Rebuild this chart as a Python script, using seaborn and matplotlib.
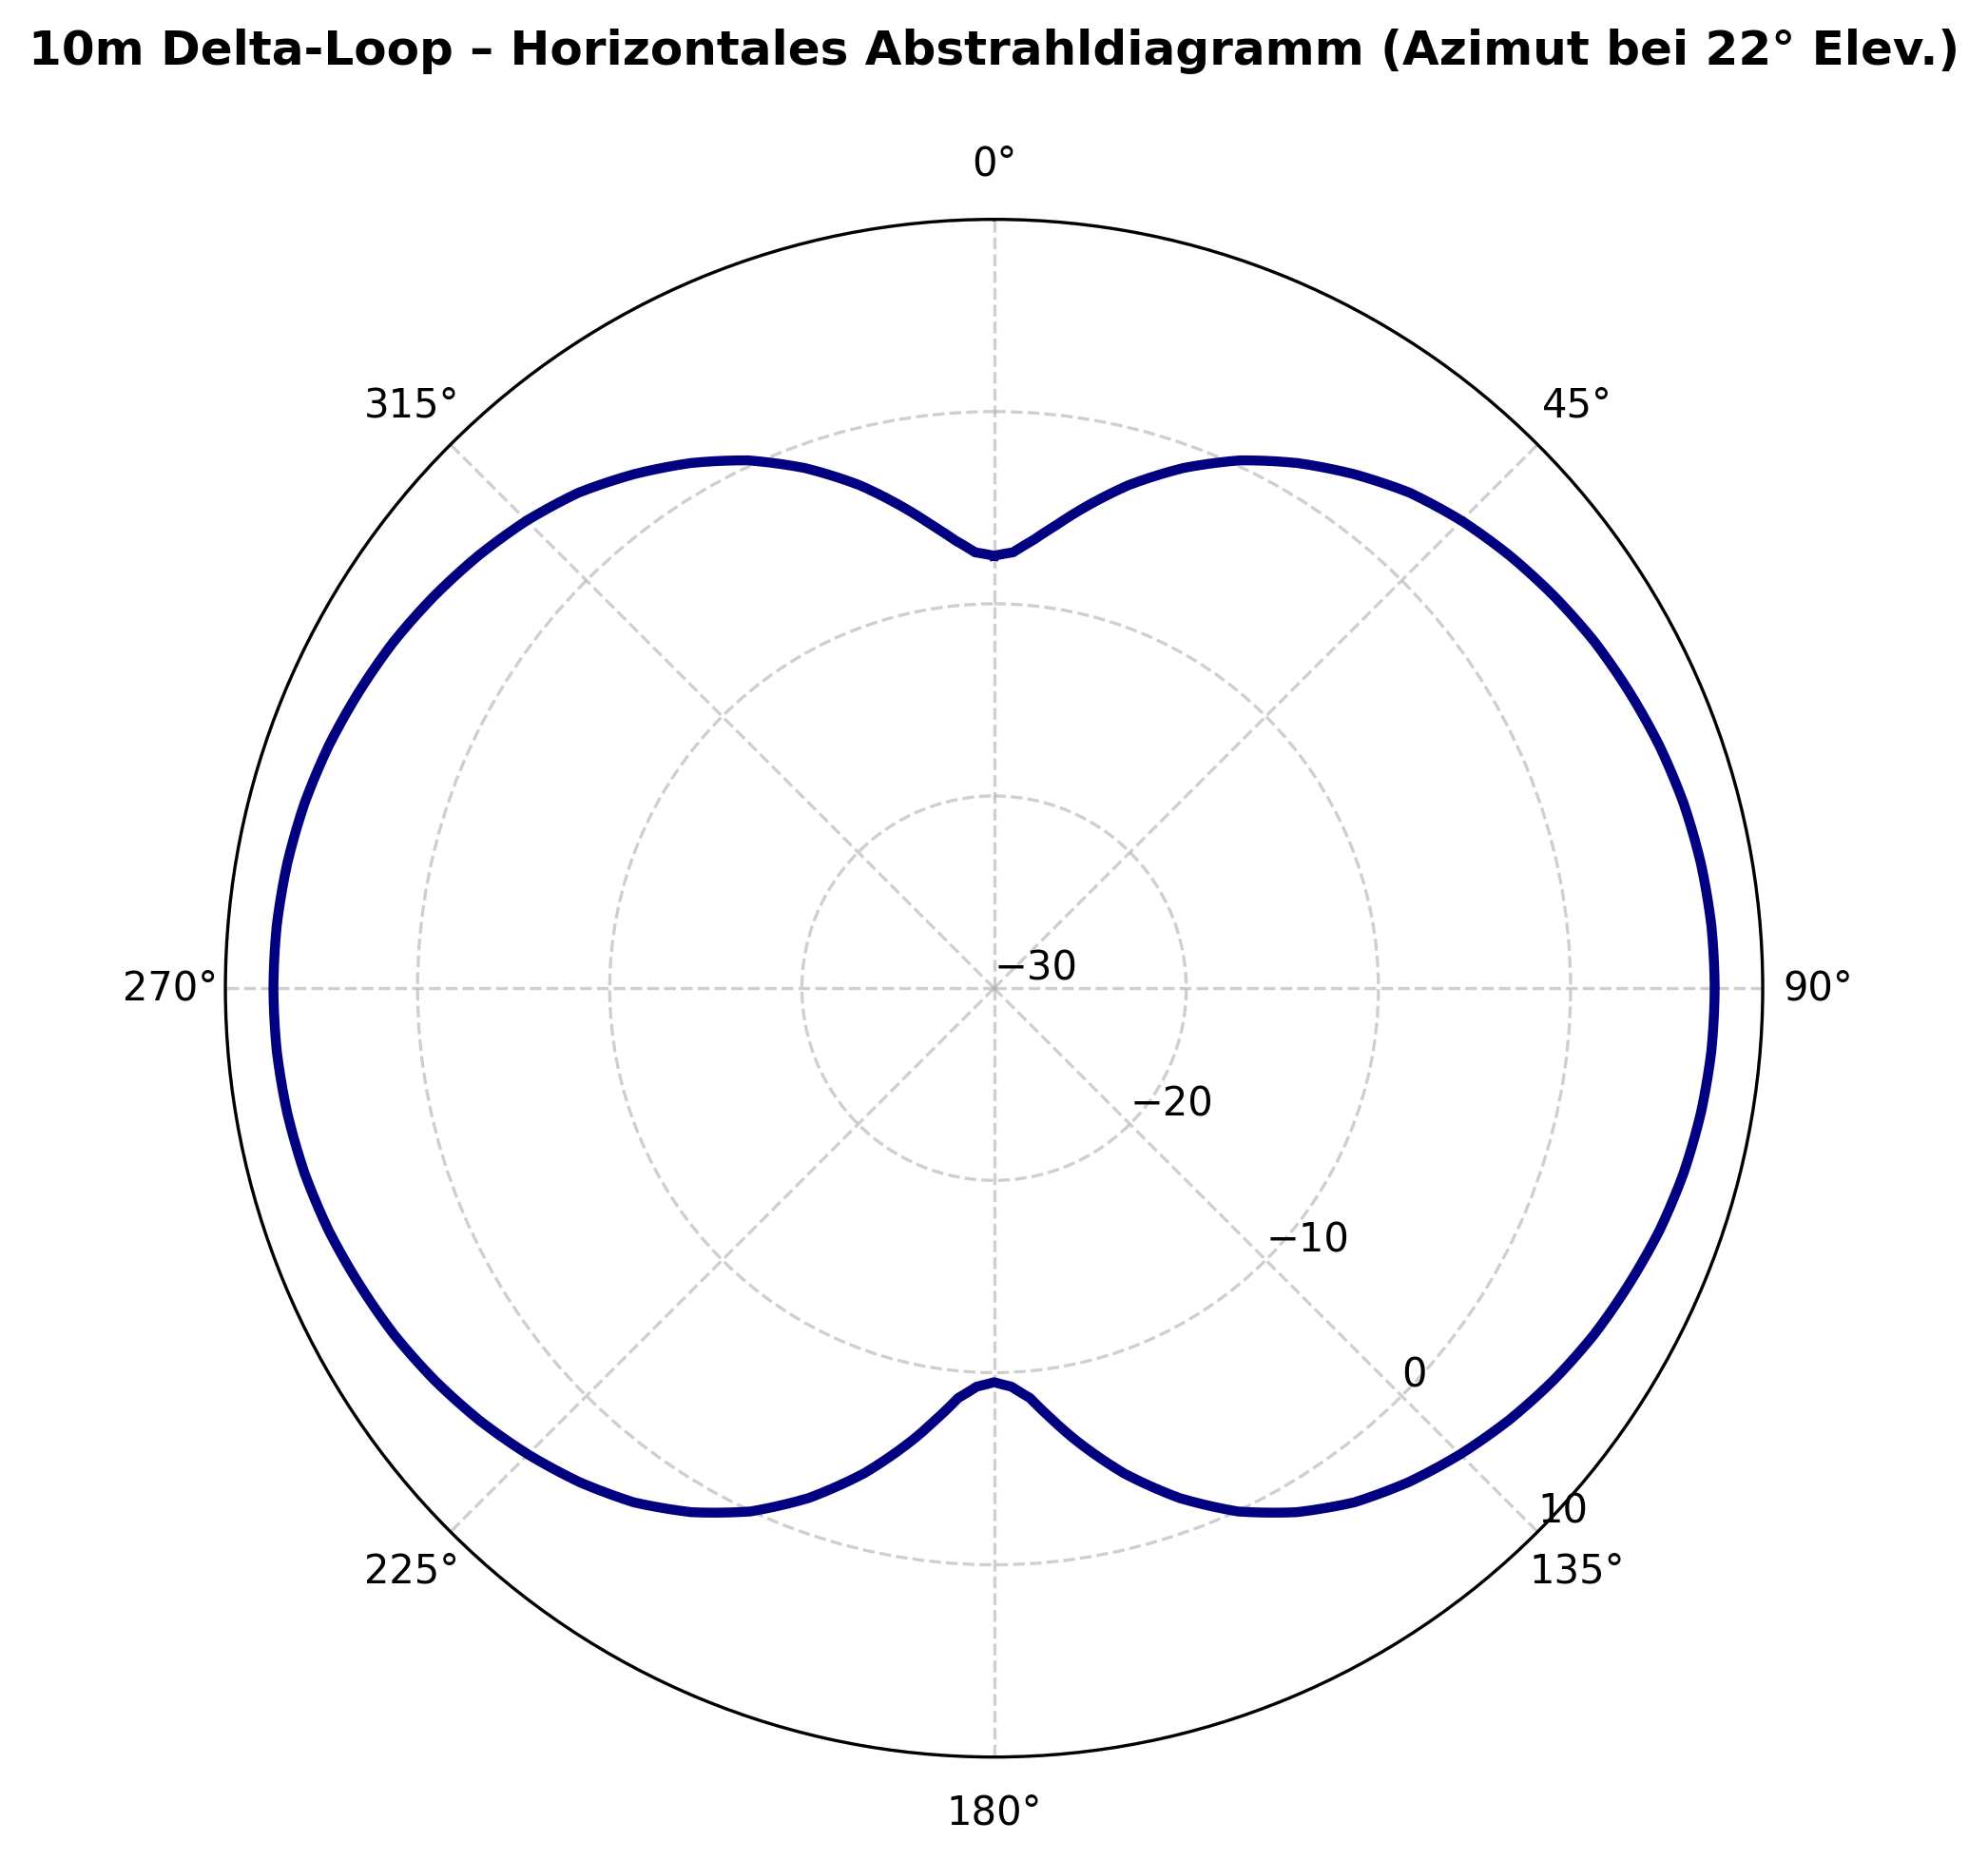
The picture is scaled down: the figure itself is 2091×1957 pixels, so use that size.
import numpy as np
import pandas as pd
import matplotlib
matplotlib.use("Agg")
import matplotlib.pyplot as plt
import seaborn as sns

# azimuth in degrees (0 = front, clockwise); finer steps around the two nulls
azimut_deg = [
    0, 2.5, 5, 7.5, 10, 15, 20, 25, 30, 35, 40, 45,
    50, 55, 60, 65, 70, 75, 80, 85, 90,
    95, 100, 105, 110, 115, 120, 125, 130, 135,
    140, 145, 150, 155, 160, 165, 170, 172.5, 175, 177.5, 180,
    182.5, 185, 187.5, 190, 195, 200, 205, 210, 215, 220, 225,
    230, 235, 240, 245, 250, 255, 260, 265, 270,
    275, 280, 285, 290, 295, 300, 305, 310, 315,
    320, 325, 330, 335, 340, 345, 350, 352.5, 355, 357.5, 360,
]

# gain in dBi
gain_dbi = [
    -7.5, -7.3, -6.6, -5.75, -4.8, -2.9, -1.2, 0.3, 1.55, 2.65, 3.65, 4.4,
    5.02, 5.57, 6.07, 6.47, 6.85, 7.15, 7.35, 7.47, 7.5,
    7.47, 7.35, 7.15, 6.85, 6.45, 6.05, 5.55, 4.97, 4.3,
    3.55, 2.66, 1.48, 0.04, -1.77, -3.87, -6.22, -7.44, -8.6, -9.25, -9.5,
    -9.25, -8.6, -7.44, -6.22, -3.87, -1.77, 0.04, 1.48, 2.66, 3.55, 4.3,
    4.97, 5.55, 6.05, 6.45, 6.85, 7.15, 7.35, 7.47, 7.5,
    7.47, 7.35, 7.15, 6.85, 6.47, 6.07, 5.57, 5.02, 4.4,
    3.65, 2.65, 1.55, 0.3, -1.2, -2.9, -4.8, -5.75, -6.6, -7.3, -7.5,
]

r_ticks = [-30, -20, -10, 0, 10]
title = "10m Delta-Loop – Horizontales Abstrahldiagramm (Azimut bei 22° Elev.)"

df = pd.DataFrame({"theta": np.deg2rad(azimut_deg), "gain": gain_dbi})

fig = plt.figure(figsize=(7, 7))
ax = fig.add_subplot(111, projection="polar")
ax.set_theta_zero_location("N")
ax.set_theta_direction(-1)

sns.lineplot(data=df, x="theta", y="gain", ax=ax, sort=False,
             color="navy", linewidth=2.5)
# let the polar transform bend each segment instead of drawing chords
for ln in ax.get_lines():
    ln.get_path()._interpolation_steps = 20

ax.set_ylim(-30, 10)
ax.set_yticks(r_ticks)
ax.set_rlabel_position(135)
ax.grid(True, linestyle="--", alpha=0.6)
ax.set_xlabel("")
ax.set_ylabel("")
ax.set_title(title, fontweight="bold", pad=20)

plt.savefig("out.png", dpi=300, bbox_inches="tight")
